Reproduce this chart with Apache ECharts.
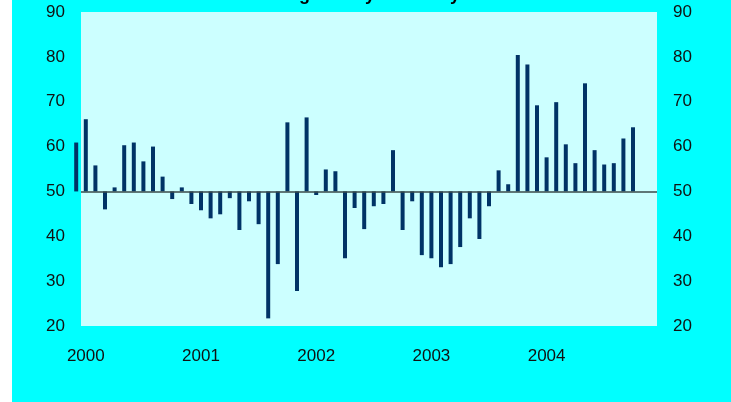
<!DOCTYPE html>
<html>
<head>
<meta charset="utf-8">
<title>chart</title>
<script src="https://cdn.jsdelivr.net/npm/echarts@6/dist/echarts.min.js"></script>
<style>
  html, body { margin: 0; padding: 0; background: #ffffff; }
  #chart_example { width: 731px; height: 402px; }
</style>
</head>
<body>
<div id="chart_example"></div>
<script>
// monthly index readings, first bar is Dec 1999, then Jan 2000 onwards
let firstMonth = -1; // month index of the first value (0 = Jan 2000)
let values = [
  60.9,
  66.1, 55.8, 46.0, 50.9, 60.3, 60.9, 56.7, 60.0, 53.3, 48.3, 50.9, 47.2,
  45.8, 44.0, 44.9, 48.5, 41.4, 47.8, 42.7, 21.7, 33.8, 65.4, 27.8, 66.5,
  49.2, 54.9, 54.5, 35.1, 46.3, 41.6, 46.7, 47.2, 59.2, 41.4, 47.8, 35.8,
  35.1, 33.1, 33.8, 37.6, 44.0, 39.4, 46.7, 54.7, 51.6, 80.4, 78.3, 69.2,
  57.6, 69.9, 60.5, 56.3, 74.1, 59.2, 56.0, 56.3, 61.8, 64.3
];
let years = ["2000", "2001", "2002", "2003", "2004"];
let yearTicks = [0, 12, 24, 36, 48];
let baseValue = 50; // bars hang from 50
let yTicks = [20, 30, 40, 50, 60, 70, 80, 90];

let myChart = echarts.init(document.getElementById("chart_example"));

// bars are drawn as distance from 50, labels shifted back
let barData = values.map(function(v, i) {
  return [firstMonth + i, v - baseValue];
});

let yLabel = {
  fontFamily: "Liberation Sans",
  fontSize: 17,
  color: "#111111",
  margin: 16,
  formatter: function(v) {
    return String(v + baseValue);
  }
};

let yCommon = {
  type: "value",
  min: yTicks[0] - baseValue,
  max: yTicks[yTicks.length - 1] - baseValue,
  interval: 10,
  axisLine: { show: false },
  axisTick: { show: false },
  splitLine: { show: false }
};

let option = {
  animation: false,
  // title sits above the picture, only the descenders show
  title: {
    text: "Manufacturing Survey - Monthly",
    left: 181,
    top: -19,
    textStyle: {
      fontFamily: "Liberation Sans",
      fontSize: 18,
      fontWeight: "bold",
      color: "#000000"
    }
  },
  graphic: [
    {
      type: "rect",
      z: -10,
      shape: { x: 12, y: 0, width: 719, height: 402 },
      style: { fill: "#00ffff" }
    }
  ],
  grid: {
    show: true,
    left: 81,
    right: 74,
    top: 12,
    bottom: 76,
    backgroundColor: "#ccffff",
    borderWidth: 0
  },
  xAxis: {
    type: "value",
    min: -0.5,
    max: 59.5,
    axisLine: { show: false },
    axisTick: { show: false },
    splitLine: { show: false },
    axisLabel: {
      customValues: yearTicks,
      fontFamily: "Liberation Sans",
      fontSize: 17,
      color: "#111111",
      margin: 22,
      formatter: function(v) {
        return years[yearTicks.indexOf(v)] || "";
      }
    }
  },
  yAxis: [
    Object.assign({}, yCommon, { position: "left", axisLabel: yLabel }),
    Object.assign({}, yCommon, { position: "right", axisLabel: yLabel })
  ],
  series: [
    {
      type: "bar",
      data: barData,
      barWidth: 4,
      clip: false,
      itemStyle: { color: "#003366" },
      markLine: {
        silent: true,
        symbol: "none",
        label: { show: false },
        lineStyle: { color: "#3a4a4a", width: 1.5, type: "solid" },
        data: [{ yAxis: 0 }]
      }
    }
  ]
};
myChart.setOption(option);
</script>
</body>
</html>
